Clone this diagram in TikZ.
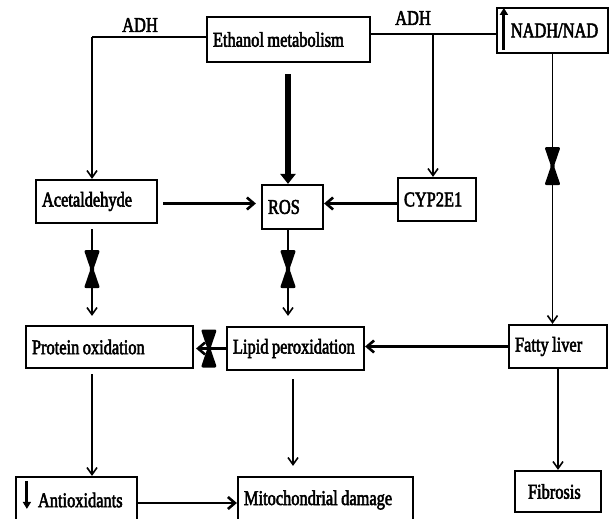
\documentclass[tikz,border=0pt]{standalone}
\usepackage{fontspec}
\newfontfamily\figfont[FakeStretch=0.78,FakeBold=2.5]{Liberation Serif}
\newcommand{\boxfont}{\figfont\fontsize{21}{22}\selectfont}
\newcommand{\tightspace}{\spaceskip=3.5pt plus 1pt\relax}
\usetikzlibrary{positioning, arrows.meta, calc}

\begin{document}
\begin{tikzpicture}[
    x=1pt, y=-1pt,
    box/.style={rectangle, draw, line width=2.2pt, inner xsep=6pt, inner ysep=0pt, align=left, font=\boxfont, execute at begin node=\tightspace},
    enzyme/.style={font=\boxfont},
    arrow/.style={-{Straight Barb[length=7pt,width=10pt]}, line width=1.6pt},
    link/.style={line width=2.6pt},
    linkarrow/.style={link, -{Straight Barb[length=7pt,width=12pt]}},
    boldarrow/.style={-{Triangle[length=10pt,width=15pt]}, line width=6.5pt},
    levelarrow/.style={-{Triangle[length=7pt,width=8pt]}, line width=3pt},
    cutmark/.pic={\fill[rounded corners=2pt] (-8,-19) -- (8,-19) -- (1.5,0) -- (8,19) -- (-8,19) -- (-1.5,0) -- cycle;}
]

\useasboundingbox (0,0) rectangle (611,519);
\fill[white] (0,0) rectangle (611,519);
\clip (0,0) rectangle (611,519);

% Boxes
\node[box, text width=151pt, minimum height=45pt] (eth) at (288.5,39.5) {\mbox{Ethanol metabolism}};
\node[box, align=center, minimum width=111pt, minimum height=45pt] (nadh) at (552.5,30.5) {\hspace*{4pt}NADH/NAD};
\node[box, text width=109pt, minimum height=43pt] (acet) at (96.5,201.5) {\mbox{Acetaldehyde}};
\node[box, text width=49pt, minimum height=44pt] (ros) at (292.5,207) {\mbox{ROS}};
\node[box, text width=66pt, minimum height=43pt] (cyp) at (437,199.5) {\mbox{CYP2E1}};
\node[box, text width=155pt, minimum height=42pt] (prot) at (109.5,347) {\mbox{Protein oxidation}};
\node[box, text width=125pt, minimum height=43pt] (lipid) at (295.5,348.5) {\mbox{Lipid peroxidation}};
\node[box, text width=86pt, minimum height=43pt] (fatty) at (558,346.5) {\mbox{Fatty liver}};
\node[box, text width=109pt, minimum height=46pt] (antiox) at (76.5,500) {\hspace*{16pt}\mbox{Antioxidants}};
\node[box, text width=163pt, minimum height=46pt] (mito) at (325.5,500) {\mbox{Mitochondrial damage}};
\node[box, text width=74pt, minimum height=41pt] (fib) at (558,491.5) {\hspace*{7pt}\mbox{Fibrosis}};

% Enzyme labels
\node[enzyme] (adhleft) at (140,25) {ADH};
\node[enzyme] (adhright) at (413,18) {ADH};

% Up / down marks inside boxes
\draw[levelarrow] ($(nadh.south west)+(8,-4)$) -- ($(nadh.north west)+(8,1)$);
\draw[levelarrow] ($(antiox.north west)+(12,5)$) -- ++(0,28);

% ADH branches
\coordinate (adhL) at (92,37);
\coordinate (adhR) at (433,34);
\draw[link] (eth.west |- adhL) -- (adhL);
\draw[arrow] (adhL) -- (adhL |- acet.north);
\draw[link] (eth.east |- adhR) -- (nadh.west |- adhR);
\draw[arrow] (adhR) -- (adhR |- cyp.north);

% Ethanol to ROS
\draw[boldarrow] ($(eth.south)+(-0.5,11)$) -- ($(eth.south |- ros.north)+(-0.5,0)$);

% Into ROS
\draw[linkarrow] ($(acet.east)+(5,2)$) -- ($(acet.east -| ros.west)+(-5,2)$);
\draw[linkarrow] ($(cyp.west)+(0,4)$) -- ($(cyp.west -| ros.east)+(0,4)$);

% Blocked arrows
\draw[arrow] ($(adhL |- acet.south)+(0,5)$) -- ($(adhL |- prot.north)+(0,-9)$);
\pic at ($(adhL |- acet.south)+(0,45)$) {cutmark};
\draw[arrow] ($(eth.south |- ros.south)+(-0.5,0)$) -- ($(eth.south |- lipid.north)+(-0.5,-10)$);
\pic at ($(eth.south |- ros.south)+(-0.5,39)$) {cutmark};
\draw[arrow] (nadh.south) -- (nadh.south |- fatty.north);
\pic at ($(nadh.south)+(0,112)$) {cutmark};
\draw[linkarrow] (lipid.west) -- ($(lipid.west -| prot.east)+(2,0)$);
\pic at ($(lipid.west)+(-17,0)$) {cutmark};

% Fatty liver
\draw[linkarrow] (fatty.west) -- (fatty.west -| lipid.east);
\draw[arrow] (fatty.south) -- (fatty.south |- fib.north);

% Down to last row
\draw[arrow] ($(adhL |- prot.south)+(0,5)$) -- (adhL |- antiox.north);
\draw[arrow] ($(lipid.south)+(-2.5,8)$) -- ($(lipid.south |- mito.north)+(-2.5,-10)$);
\draw[linkarrow] ($(antiox.east)+(0,3)$) -- ($(antiox.east -| mito.west)+(0,3)$);

\end{tikzpicture}
\end{document}
